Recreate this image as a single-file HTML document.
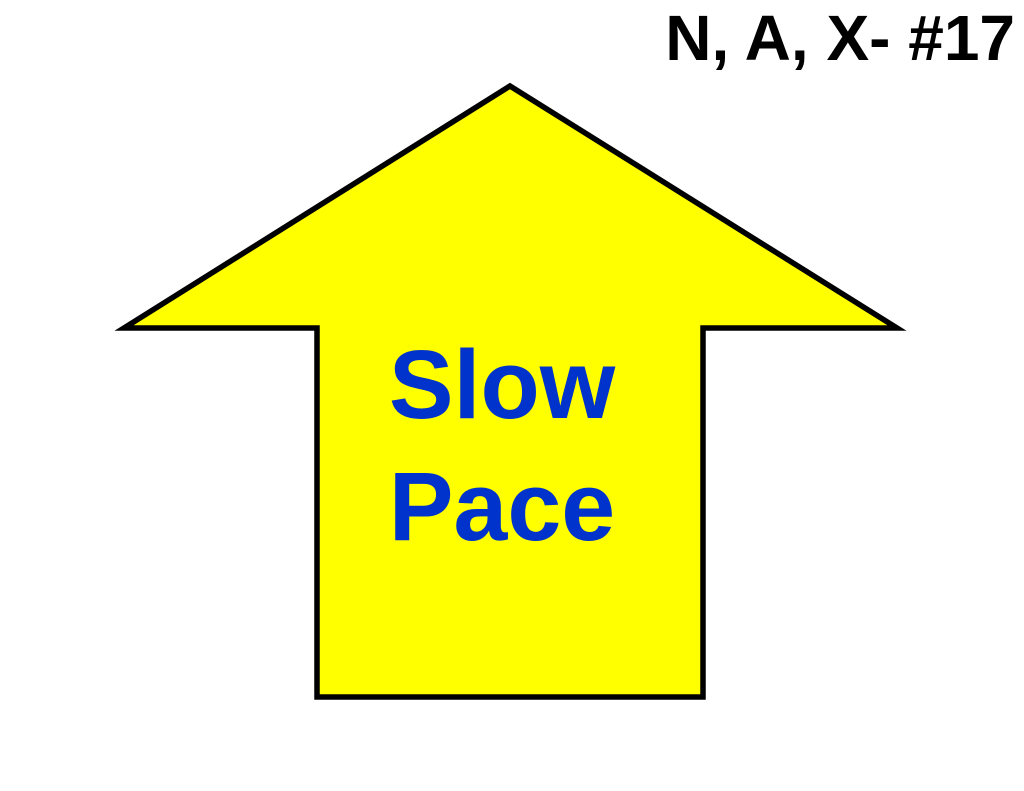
<!DOCTYPE html>
<html>
<head>
<meta charset="utf-8">
<style>
html,body{margin:0;padding:0;background:#fff;}
svg{display:block;}
text{font-family:"Liberation Sans",Arial,sans-serif;font-weight:bold;}
</style>
</head>
<body>
<svg width="1024" height="791" viewBox="0 0 1024 791">
  <text x="1015" y="60" text-anchor="end" font-size="64" fill="#000">N, A, X- #17</text>
  <polygon points="510,86 124,328 317,328 317,697 703,697 703,328 897,328" fill="#ffff00" stroke="#000" stroke-width="5.5" stroke-linejoin="miter"/>
  <text x="502" y="418" text-anchor="middle" font-size="97" fill="#0033cc">Slow</text>
  <text x="502" y="540" text-anchor="middle" font-size="97" fill="#0033cc">Pace</text>
</svg>
</body>
</html>
